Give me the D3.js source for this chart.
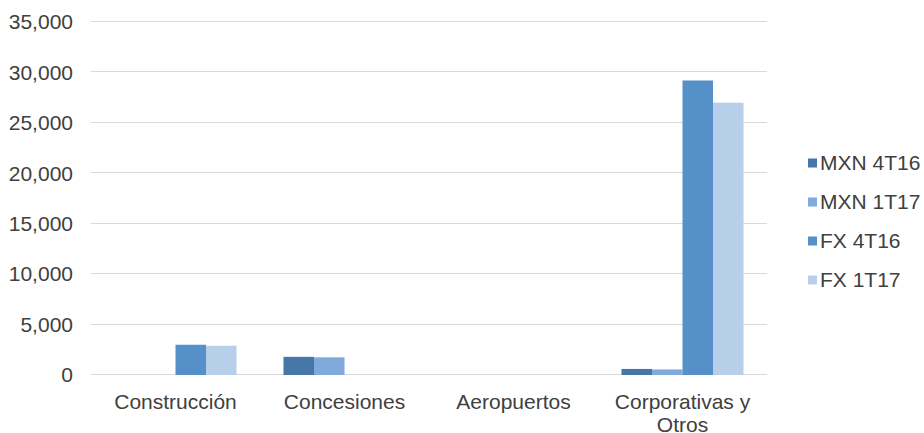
<!DOCTYPE html>
<html>
<head>
<meta charset="utf-8">
<script src="https://cdn.jsdelivr.net/npm/d3@7"></script>
<style>
  body { margin: 0; background: #fff; }
  text { font-family: "Liberation Sans", Arial, sans-serif; fill: #404040; }
</style>
</head>
<body>
<div id="chart"></div>
<script>
// categories and series
var categories = ["Construcción", "Concesiones", "Aeropuertos", "Corporativas y Otros"];
var seriesNames = ["MXN 4T16", "MXN 1T17", "FX 4T16", "FX 1T17"];
var mxn4T16 = [0, 1800, 0, 600];
var mxn1T17 = [0, 1750, 0, 550];
var fx4T16 = [3000, 0, 0, 29200];
var fx1T17 = [2900, 0, 0, 27000];
var yTicks = [0, 5000, 10000, 15000, 20000, 25000, 30000, 35000];
var colors = ["#4677a8", "#7faadb", "#5591c8", "#b8cfea"];

var seriesValues = [mxn4T16, mxn1T17, fx4T16, fx1T17];

var width = 924, height = 433;
var plotLeft = 91, plotRight = 767, plotTop = 22, plotBottom = 375;

var svg = d3.select("#chart")
  .append("svg")
  .attr("width", width)
  .attr("height", height);

var x = d3.scaleBand()
  .domain(categories)
  .range([plotLeft, plotRight]);

var x1 = d3.scaleBand()
  .domain(seriesNames)
  .range([0, x.bandwidth()])
  .paddingOuter(0.77);

var y = d3.scaleLinear()
  .domain([0, 35000])
  .range([plotBottom, plotTop]);

// gridlines
svg.append("g")
  .selectAll("line")
  .data(yTicks)
  .enter().append("line")
  .attr("x1", plotLeft)
  .attr("x2", plotRight)
  .attr("y1", function(d) { return Math.round(y(d)) - 0.5; })
  .attr("y2", function(d) { return Math.round(y(d)) - 0.5; })
  .style("stroke", "#d9d9d9")
  .style("stroke-width", 1);

// y tick labels
var fmt = d3.format(",");
svg.append("g")
  .selectAll("text")
  .data(yTicks)
  .enter().append("text")
  .attr("x", 73)
  .attr("y", function(d) { return y(d); })
  .attr("dy", "0.35em")
  .attr("text-anchor", "end")
  .style("font-size", "21px")
  .text(function(d) { return fmt(d); });

// bars
var groups = svg.append("g")
  .selectAll("g")
  .data(categories)
  .enter().append("g")
  .attr("transform", function(d) { return "translate(" + x(d) + ",0)"; });

groups.selectAll("rect")
  .data(function(d, i) {
    return seriesNames.map(function(s, j) { return { key: s, value: seriesValues[j][i], color: colors[j] }; });
  })
  .enter().append("rect")
  .attr("x", function(d) { return x1(d.key); })
  .attr("width", x1.bandwidth())
  .attr("y", function(d) { return y(d.value); })
  .attr("height", function(d) { return y(0) - y(d.value); })
  .style("fill", function(d) { return d.color; });

// category labels (wrap the long one)
var catLabels = svg.append("g")
  .selectAll("text")
  .data(categories)
  .enter().append("text")
  .attr("text-anchor", "middle")
  .attr("y", 402)
  .style("font-size", "21px");

catLabels.each(function(d) {
  var t = d3.select(this);
  var lines = d == "Corporativas y Otros" ? ["Corporativas y", "Otros"] : [d];
  lines.forEach(function(l, i) {
    t.append("tspan")
      .attr("x", x(d) + x.bandwidth() / 2)
      .attr("dy", i == 0 ? "0.35em" : "23px")
      .text(l);
  });
});

// legend
var legend = svg.append("g")
  .selectAll("g")
  .data(seriesNames)
  .enter().append("g")
  .attr("transform", function(d, i) { return "translate(808," + (163 + i * 39) + ")"; });

legend.append("rect")
  .attr("x", 0)
  .attr("y", -4.5)
  .attr("width", 9)
  .attr("height", 9)
  .style("fill", function(d, i) { return colors[i]; });

legend.append("text")
  .attr("x", 12)
  .attr("y", 0)
  .attr("dy", "0.35em")
  .style("font-size", "21px")
  .text(function(d) { return d; });
</script>
</body>
</html>
